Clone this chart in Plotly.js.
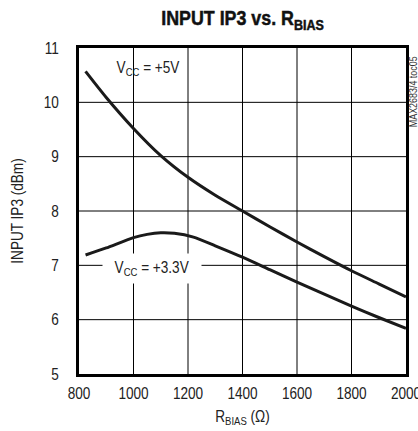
<!DOCTYPE html>
<html>
<head>
<meta charset="utf-8">
<script src="https://cdn.plot.ly/plotly-3.0.1.min.js"></script>
<style>html,body{margin:0;padding:0;background:#fff;}#chart{width:418px;height:431px;}
#chart text.gtitle{stroke:#111;stroke-width:0.5px;}</style>
</head>
<body>
<div id="chart"></div>
<script>
const rbias5 = [824, 900, 1000, 1100, 1200, 1300, 1400, 1500, 1600, 1700, 1800, 1900, 2000];
const ip3_5V = [10.57, 10.09, 9.52, 9.02, 8.62, 8.29, 8.0, 7.71, 7.43, 7.16, 6.90, 6.66, 6.42];
const rbias33 = [824, 900, 1000, 1050, 1100, 1150, 1220, 1300, 1400, 1500, 1600, 1700, 1800, 1900, 2000];
const ip3_33V = [7.19, 7.32, 7.51, 7.57, 7.60, 7.59, 7.52, 7.36, 7.15, 6.92, 6.69, 6.47, 6.25, 6.04, 5.84];
const xTicks = [800, 1000, 1200, 1400, 1600, 1800, 2000];
const yTicks = [5, 6, 7, 8, 9, 10, 11];
const labels = ["V<sub>CC</sub> = +5V", "V<sub>CC</sub> = +3.3V"];

const F = '"Liberation Sans", Arial, Helvetica, sans-serif';
const lineStyle = {color: '#1a1a1a', width: 3};

const data = [
  {x: rbias5, y: ip3_5V, mode: 'lines', line: Object.assign({shape: 'spline', smoothing: 0.7}, lineStyle), hoverinfo: 'skip'},
  {x: rbias33, y: ip3_33V, mode: 'lines', line: Object.assign({shape: 'spline', smoothing: 0.6}, lineStyle), hoverinfo: 'skip'}
];

const shapes = [];
xTicks.slice(1, -1).forEach(v => shapes.push({type: 'line', xref: 'x', yref: 'paper', x0: v, x1: v, y0: 0, y1: 1, line: {color: '#000', width: 1}, layer: 'below'}));
yTicks.slice(1, -1).forEach(v => shapes.push({type: 'line', xref: 'paper', yref: 'y', x0: 0, x1: 1, y0: v, y1: v, line: {color: '#000', width: 1}, layer: 'below'}));

const layout = {
  width: 418, height: 431,
  margin: {l: 79, r: 12, t: 48, b: 57},
  paper_bgcolor: '#fff', plot_bgcolor: '#fff',
  showlegend: false,
  font: {family: F, color: '#222', size: 16},
  title: {text: '<b>INPUT IP3 vs. R<sub>BIAS</sub></b>', xref: 'paper', x: 0.5, xanchor: 'center', y: 0.958, yanchor: 'middle', font: {family: F, size: 21, color: '#111', weight: 'bold'}},
  xaxis: {
    range: [800, 2000], tickvals: xTicks, ticktext: xTicks.map(String),
    showgrid: false, zeroline: false, showline: true, linecolor: '#000', linewidth: 3, mirror: true,
    ticks: '', ticklabelstandoff: 3, ticklabeloverflow: 'allow',
    tickfont: {family: F, size: 16, color: '#222'},
    title: {text: 'R<sub>BIAS</sub> (Ω)', font: {family: F, size: 16, color: '#222'}, standoff: 10}
  },
  yaxis: {
    range: [5, 11], tickvals: yTicks, ticktext: yTicks.map(String),
    showgrid: false, zeroline: false, showline: true, linecolor: '#000', linewidth: 3, mirror: true,
    ticks: '', ticklabelstandoff: 14,
    tickfont: {family: F, size: 16, color: '#222'},
    title: {text: 'INPUT IP3 (dBm)', font: {family: F, size: 16, color: '#222'}, standoff: 14}
  },
  shapes: shapes,
  annotations: [
    {x: 1052, y: 10.62, xref: 'x', yref: 'y', text: labels[0], showarrow: false, font: {family: F, size: 16, color: '#222'}, xanchor: 'center', yanchor: 'middle'},
    {x: 1068, y: 6.95, xref: 'x', yref: 'y', text: labels[1], showarrow: false, font: {family: F, size: 16, color: '#222'}, xanchor: 'center', yanchor: 'middle', bgcolor: '#fff', borderpad: 5},
    {x: 1.02, y: 1.0, xref: 'paper', yref: 'paper', text: 'MAX2683/4 toc05', showarrow: false, textangle: -90, font: {family: F, size: 10.5, color: '#333'}, xanchor: 'center', yanchor: 'top'}
  ]
};

function narrow(gd) {
  gd.querySelectorAll('svg text').forEach(t => {
    const x = parseFloat(t.getAttribute('x') || '0');
    const s = 0.85;
    const tr = t.getAttribute('transform') || '';
    t.setAttribute('transform', (tr + ' translate(' + x + ',0) scale(' + s + ',1) translate(' + (-x) + ',0)').trim());
  });
}

Plotly.newPlot('chart', data, layout, {staticPlot: true, displayModeBar: false}).then(narrow);
</script>
</body>
</html>
